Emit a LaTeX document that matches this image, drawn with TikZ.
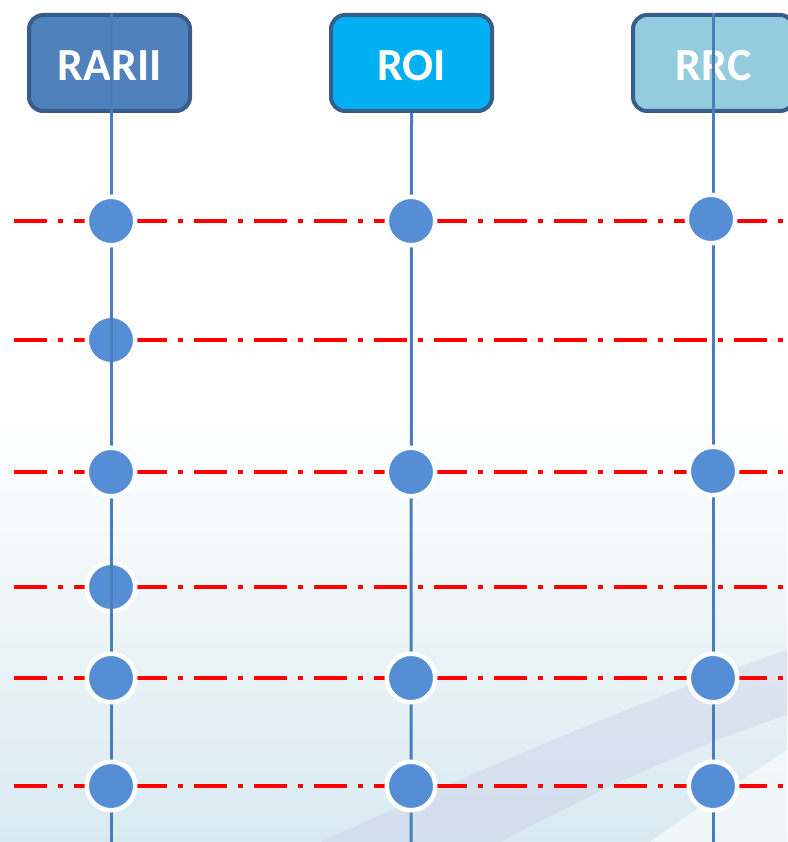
\documentclass[tikz,border=0pt]{standalone}
\usepackage{fontspec}
\setmainfont{Carlito}
\usetikzlibrary{positioning}

\definecolor{boxedge}{HTML}{385D8A}
\definecolor{rariifill}{HTML}{4F81BD}
\definecolor{roifill}{HTML}{00B0F0}
\definecolor{rrcfill}{HTML}{93CDDD}
\definecolor{lifeblue}{HTML}{4A7EBB}
\definecolor{dotblue}{HTML}{558ED5}
\definecolor{syncred}{HTML}{FF0000}
\definecolor{bgcream}{HTML}{F6FAEC}
\definecolor{bgblue}{HTML}{D8EAF0}
\definecolor{bgviolet}{HTML}{C4C3E6}

\begin{document}
\begin{tikzpicture}[%
			x=1pt, y=-1pt,
			font=\fontsize{46}{46}\selectfont\bfseries,
			actor/.style={%
				draw=boxedge,
				line width=4pt,
				rounded corners=14pt,
				minimum width=161pt,
				minimum height=96pt,
				inner sep=0pt,
				text height=35.5pt,
				text depth=0pt,
				text=white
			},
			lifeline/.style={draw=lifeblue, line width=3pt},
			sync/.style={%
				draw=syncred,
				line width=4pt,
				dash pattern=on 33pt off 11pt on 5pt off 11pt
			},
			event/.style={%
				circle,
				fill=dotblue,
				draw=white,
				line width=4.5pt,
				minimum size=48.5pt,
				inner sep=0pt
			}
			]
			% background
			\useasboundingbox (0,0) rectangle (787,842);
			\fill[white] (0,0) rectangle (787,842);
			\shade[top color=white, middle color=bgcream, bottom color=bgblue] (0,420) rectangle (787,842);
			\fill[bgviolet, opacity=0.3] (320,842) .. controls (480,770) and (640,700) .. (787,650)
				-- (787,715) .. controls (680,750) and (580,800) .. (500,842) -- cycle;
			\fill[white, opacity=0.6] (650,842) .. controls (700,805) and (750,775) .. (787,750)
				-- (787,842) -- cycle;
			
			% actors
			\node[actor, fill=rariifill] (rarii) at (109.5,63) {RARII};
			\node[actor, fill=roifill] (roi) at (411.5,63) {ROI};
			\node[actor, fill=rrcfill] (rrc) at (713.5,63) {RRC};
			
			\coordinate (rariitop) at (111,13);
			\coordinate (rrctop) at (713,13);
			\coordinate (rariiend) at (111,850);
			\coordinate (roiend) at (411,850);
			\coordinate (rrcend) at (713,850);
			
			% sync lines
			\coordinate (s1) at (14,221); \coordinate (e1) at (800,221);
			\coordinate (s2) at (14,340); \coordinate (e2) at (800,340);
			\coordinate (s3) at (14,472); \coordinate (e3) at (800,472);
			\coordinate (s4) at (14,587); \coordinate (e4) at (800,587);
			\coordinate (s5) at (14,678); \coordinate (e5) at (800,678);
			\coordinate (s6) at (14,786); \coordinate (e6) at (800,786);
			\draw[sync] (s1) -- (e1);
			\draw[sync] (s2) -- (e2);
			\draw[sync] (s3) -- (e3);
			\draw[sync] (s4) -- (e4);
			\draw[sync] (s5) -- (e5);
			\draw[sync] (s6) -- (e6);
			
			% events under the lifeline
			\node[event] (a2) at (111,340) {};
			\node[event] (a4) at (111,587) {};
			
			% lifelines
			\draw[lifeline] (rariitop) -- (rariiend);
			\draw[lifeline] (roi.south) -- (roiend);
			\draw[lifeline] (rrctop) -- (rrcend);
			
			% events
			\node[event] (a1) at (111,221) {};
			\node[event] (b1) at (411,221) {};
			\node[event] (c1) at (711,219) {};
			\node[event] (a3) at (111,472) {};
			\node[event] (b3) at (411,472) {};
			\node[event] (c3) at (713,471) {};
			\node[event] (a5) at (111,678) {};
			\node[event] (b5) at (411,678) {};
			\node[event] (c5) at (713,678) {};
			\node[event] (a6) at (111,786) {};
			\node[event] (b6) at (411,786) {};
			\node[event] (c6) at (713,786) {};
			\end{tikzpicture}
\end{document}
